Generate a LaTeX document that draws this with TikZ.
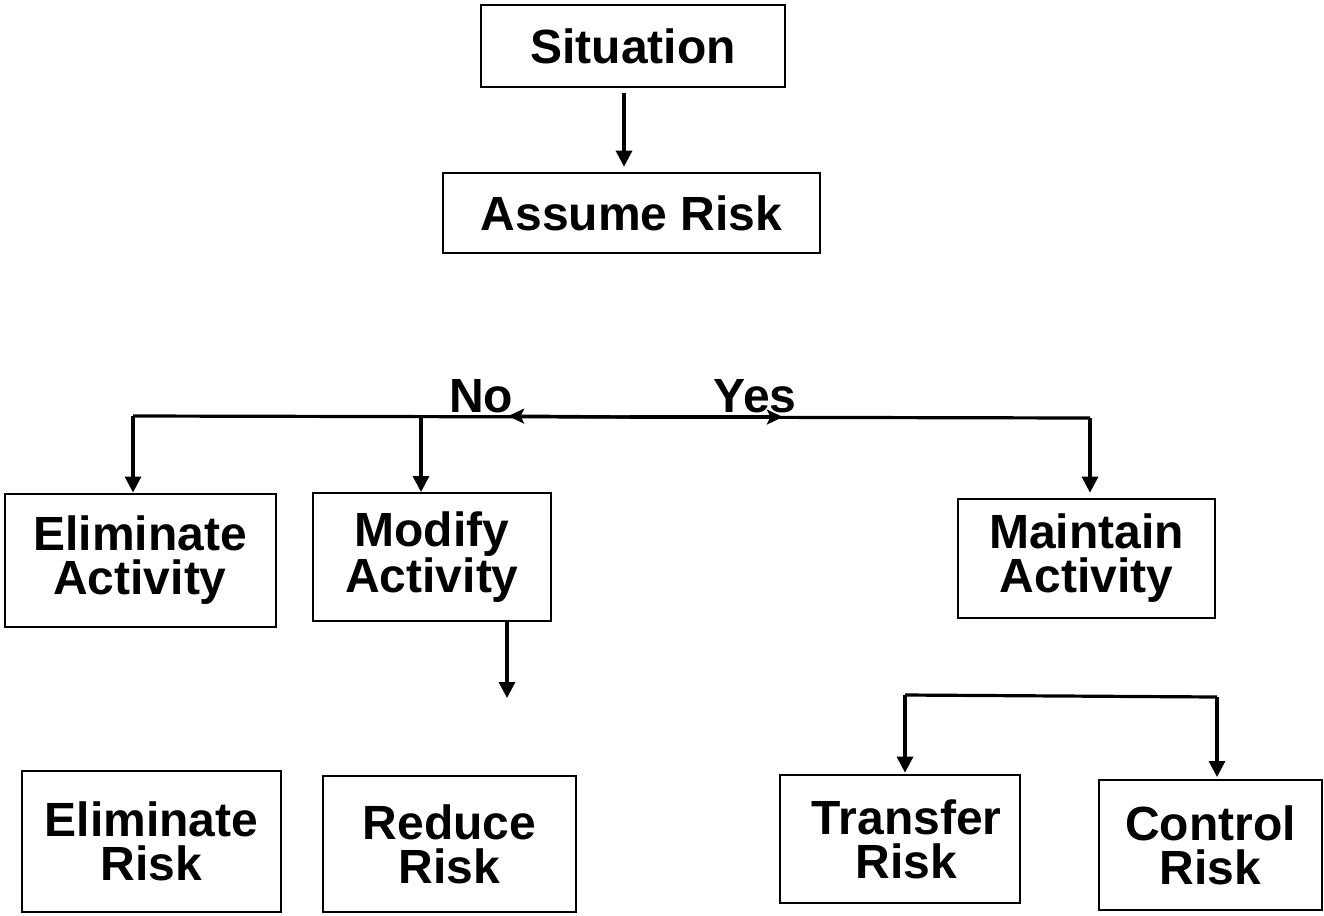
\documentclass[tikz,border=0pt]{standalone}
\usepackage{fontspec}
\setmainfont{Liberation Sans}
\usetikzlibrary{arrows.meta}
\begin{document}
\begin{tikzpicture}[x=0.75pt,y=-0.75pt,
  box/.style={draw,line width=1.5pt,inner sep=0pt,align=center,
    font=\fontsize{36}{33}\selectfont\bfseries},
  lbl/.style={inner sep=0pt,anchor=base,font=\fontsize{36}{33}\selectfont\bfseries},
  conn/.style={line width=2.4pt},
  arr/.style={line width=2.4pt,-{Triangle[width=12pt,length=12pt]}},
  arrs/.style={line width=2.4pt,-{Stealth[width=11pt,length=12pt,inset=2.5pt]}}]
\useasboundingbox (0,0) rectangle (1324,915);
% boxes
\node[box,minimum width=228pt,minimum height=61.5pt] (sit) at (633,46) {Situation};
\node[box,minimum width=282.75pt,minimum height=60pt] (assume) at (631.5,213) {Assume Risk};
\node[box,minimum width=203.25pt,minimum height=99.75pt] (elimA) at (140,560) {Eliminate\\Activity};
\node[box,minimum width=178.5pt,minimum height=96pt] (modA) at (432,557) {Modify\\Activity};
\node[box,minimum width=192.75pt,minimum height=89.25pt] (mainA) at (1086.5,558.5) {Maintain\\Activity};
\node[box,minimum width=194.25pt,minimum height=105.75pt] (elimR) at (151.5,841.5) {Eliminate\\Risk};
\node[box,minimum width=189.75pt,minimum height=102pt] (redR) at (449.5,844) {Reduce\\Risk};
\node[box,minimum width=180pt,minimum height=96pt,text width=180pt,xshift=0pt] (transR) at (900,839) {\hspace*{10pt}Transfer\\\hspace*{10pt}Risk};
\node[box,minimum width=167.25pt,minimum height=97.5pt] (ctrlR) at (1210.5,845) {Control\\Risk};
% labels
\node[lbl] (no) at (481,412) {No};
\node[lbl] (yes) at (755,412) {Yes};
% coordinates
\coordinate (t0) at (624,0);
\coordinate (barL) at (133,416);
\coordinate (barM) at (421,416);
\coordinate (barC) at (630,417);
\coordinate (noTip) at (508,416);
\coordinate (yesTip) at (783,417);
\coordinate (barR) at (1090,418);
\coordinate (m0) at (507,0);
\coordinate (modEnd) at (507,698);
\coordinate (brL) at (905,695);
\coordinate (brR) at (1217,697);
% connectors
\draw[arr,shorten <=3.5pt,shorten >=4pt] (sit.south -| t0) -- (assume.north -| t0);
\draw[conn] (barL) -- (barR);
\draw[arrs] (barC) -- (noTip);
\draw[arrs] (barC) -- (yesTip);
\draw[arr] (barL) -- (barL |- elimA.north);
\draw[arr] (barM) -- (barM |- modA.north);
\draw[arr,shorten >=4pt] (barR) -- (barR |- mainA.north);
\draw[arr] (modA.south -| m0) -- (modEnd);
\draw[conn] (brL) -- (brR);
\draw[arr,shorten >=1pt] (brL) -- (brL |- transR.north);
\draw[arr,shorten >=1.5pt] (brR) -- (brR |- ctrlR.north);
\end{tikzpicture}
\end{document}
